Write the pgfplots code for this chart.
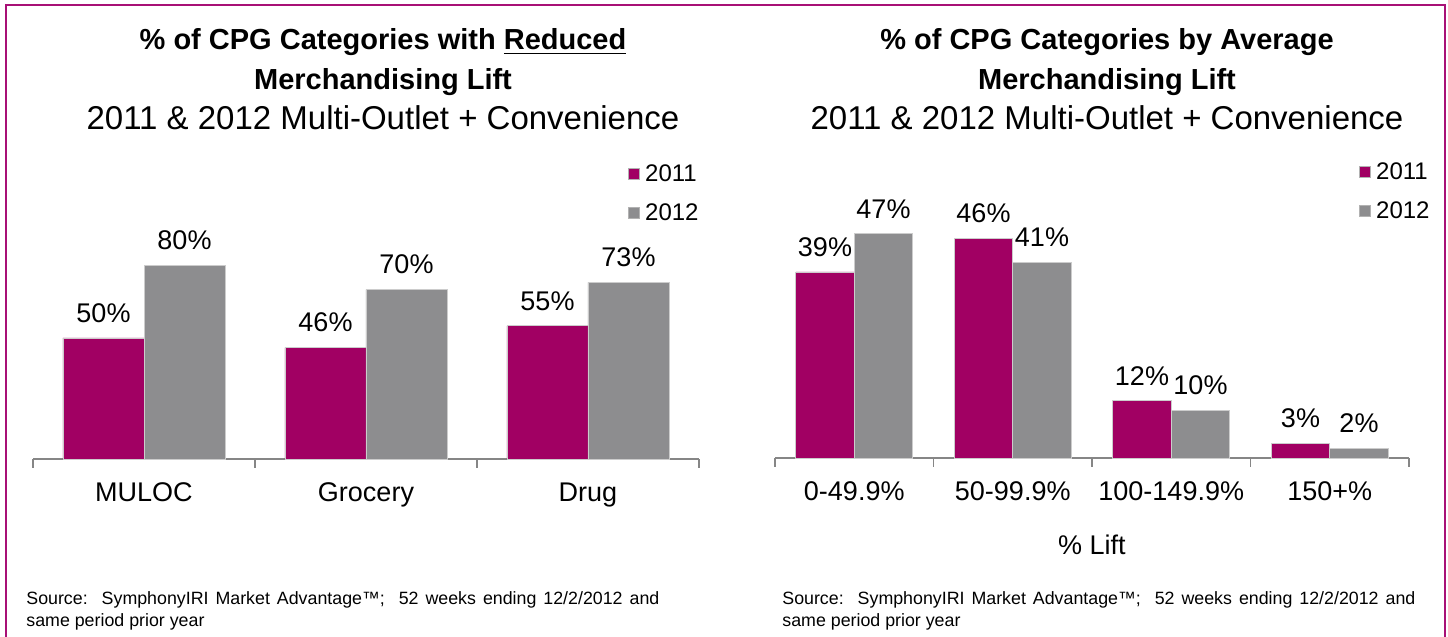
\documentclass[border=0pt]{standalone}
\usepackage{fontspec}
\setmainfont{Liberation Sans}
\usepackage{pgfplots}
\pgfplotsset{compat=1.18}
\definecolor{mag}{RGB}{161,0,99}
\definecolor{gry}{RGB}{141,141,143}
\definecolor{framec}{RGB}{168,16,118}
\definecolor{axgray}{RGB}{134,134,134}
\newcommand\fs[1]{\fontsize{#1pt}{#1pt}\selectfont}
\pgfplotsset{
  common/.style={
    scale only axis, ybar=0pt, enlargelimits=false, clip=false,
    ymin=0,
    /pgf/number format/assume math mode=true,
    axis y line=none, axis x line*=bottom,
    axis line style={axgray, line width=0.75pt},
    major tick length=0pt, minor tick length=4.5pt, tick align=outside,
    tick style={axgray, line width=0.75pt},
    xticklabel style={font=\fs{13.5}, yshift=-8.5pt},
    nodes near coords={\pgfmathprintnumber[assume math mode=true]{\pgfplotspointmeta}\%},
    nodes near coords style={font=\fs{13.5}, text=black, yshift=4.25pt},
    legend cell align=left,
    legend style={draw=none, fill=none, inner sep=0pt, font=\fs{12},
      nodes={inner sep=0pt, text height=8.1pt, text depth=0pt},
      row sep=11.4pt,
      /tikz/every odd column/.append style={column sep=2.5pt}},
    legend image code/.code={\draw[##1, draw=black!30, line width=0.4pt] (0pt,-3.2pt) rectangle (5.5pt,2.3pt);},
  }
}
\begin{document}
\begin{tikzpicture}[x=0.5pt,y=0.5pt]
\useasboundingbox (0,0) rectangle (1448,637);
\draw[framec, line width=1pt] (6,632) rectangle (1445,-10);
% titles
\node[anchor=base, font=\bfseries\fs{14.5}] at (383,587) {\% of CPG Categories with \underline{Reduced}};
\node[anchor=base, font=\bfseries\fs{14.5}] at (383,547) {Merchandising Lift};
\node[anchor=base, font=\fs{16.5}] at (383,507) {2011 \& 2012 Multi-Outlet + Convenience};
\node[anchor=base, font=\bfseries\fs{14.5}] at (1107,587) {\% of CPG Categories by Average};
\node[anchor=base, font=\bfseries\fs{14.5}] at (1107,547) {Merchandising Lift};
\node[anchor=base, font=\fs{16.5}] at (1107,507) {2011 \& 2012 Multi-Outlet + Convenience};
% sources
\node[anchor=north west, text width=316.5pt, align=justify, inner sep=0pt, font=\fontsize{8.9pt}{11pt}\selectfont] at (26,46)
 {Source:\ \ SymphonyIRI Market Advantage™;\ \ 52 weeks ending 12/2/2012 and\linebreak same period prior year};
\node[anchor=north west, text width=316.5pt, align=justify, inner sep=0pt, font=\fontsize{8.9pt}{11pt}\selectfont] at (782,46)
 {Source:\ \ SymphonyIRI Market Advantage™;\ \ 52 weeks ending 12/2/2012 and\linebreak same period prior year};

\begin{axis}[common,
  at={(16.5pt,89pt)}, anchor=south west, width=333pt, height=121pt,
  bar width=40.5pt, xmin=-0.5, xmax=2.5, ymax=100,
  xtick={0,1,2}, xticklabels={MULOC,Grocery,Drug},
  minor xtick={-0.5,0.5,1.5,2.5},
  legend style={at={(1,1)}, anchor=south east, yshift=-2pt},
]
\addplot[fill=mag, draw=black!20, line width=0.4pt] coordinates {(0,50) (1,46) (2,55)};
\addplot[fill=gry, draw=black!20, line width=0.4pt] coordinates {(0,80) (1,70) (2,73)};
\legend{2011,2012}
\end{axis}

\begin{axis}[common,
  at={(387.5pt,89.5pt)}, anchor=south west, width=317pt, height=119.25pt,
  bar width=29.25pt, xmin=-0.5, xmax=3.5, ymax=50,
  xtick={0,1,2,3}, xticklabels={0-49.9\%,50-99.9\%,100-149.9\%,150+\%},
  minor xtick={-0.5,0.5,1.5,2.5,3.5},
  xlabel={\% Lift}, xlabel style={font=\fs{13.5}, yshift=-10pt},
  legend style={at={(1,1)}, anchor=south east, xshift=10.5pt, yshift=0.5pt},
]
\addplot[fill=mag, draw=black!20, line width=0.4pt] coordinates {(0,39) (1,46) (2,12) (3,3)};
\addplot[fill=gry, draw=black!20, line width=0.4pt] coordinates {(0,47) (1,41) (2,10) (3,2)};
\legend{2011,2012}
\end{axis}
\end{tikzpicture}
\end{document}
